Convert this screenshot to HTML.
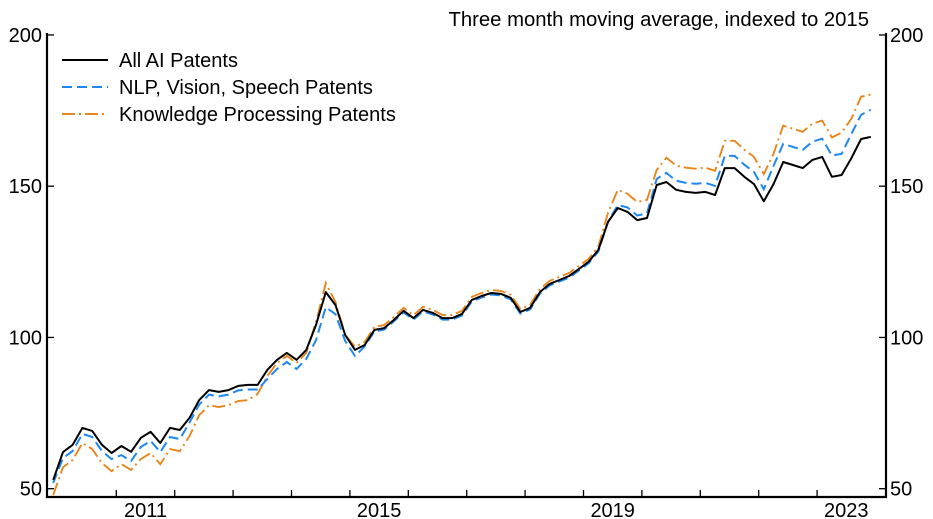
<!DOCTYPE html>
<html><head><meta charset="utf-8"><style>
body{margin:0;background:#fff;}
svg{display:block;font-family:"Liberation Sans",sans-serif;}
</style></head><body>
<svg id="chart" width="933" height="519">
<defs><clipPath id="clip"><rect x="47" y="30" width="839" height="467"/></clipPath></defs>
<text x="869" y="26" text-anchor="end" font-size="20.3">Three month moving average, indexed to 2015</text>
<g id="axes"></g>
<g id="series" clip-path="url(#clip)"></g>
<g>
<line x1="62" y1="60" x2="108" y2="60" stroke="#000" stroke-width="2"/>
<text x="119" y="67" font-size="20">All AI Patents</text>
<line x1="62" y1="87" x2="108" y2="87" stroke="#1e88f0" stroke-width="2" stroke-dasharray="10,5"/>
<text x="119" y="94" font-size="20">NLP, Vision, Speech Patents</text>
<line x1="62" y1="114" x2="108" y2="114" stroke="#e8851c" stroke-width="2" stroke-dasharray="13,4,2,4"/>
<text x="119" y="121" font-size="20">Knowledge Processing Patents</text>
</g>
</svg>
<script>
const startYear = 2009.92;
const stepYears = 2/12;
const allAI = [52.9,62.1,64.5,70.1,69.1,64.5,61.8,64.1,62.2,66.8,68.8,65.1,70.1,69.4,73.4,79.3,82.6,82.0,82.6,84.0,84.3,84.3,89.3,92.6,94.9,92.6,95.9,104.1,115.0,110.7,100.8,95.9,97.5,102.5,103.1,105.8,108.8,106.4,109.1,108.1,106.4,106.4,107.8,112.4,113.7,114.7,114.4,113.1,108.4,109.8,115.0,117.7,119.0,120.3,122.6,125.0,128.9,138.2,142.8,141.5,138.8,139.5,150.4,151.4,148.8,148.1,147.8,148.1,147.1,156.0,156.0,153.1,150.7,145.0,150.7,158.0,157.0,156.0,158.7,159.7,153.1,153.7,159.3,165.6,166.3];
const nlp = [51.9,60.1,62.5,68.1,67.1,62.5,59.8,61.1,59.2,63.8,65.8,62.1,67.1,66.4,71.9,77.8,81.1,80.5,81.1,82.5,82.8,82.8,86.3,89.6,91.9,89.6,92.9,99.1,110.0,107.7,98.8,93.9,97.0,102.0,102.6,105.3,108.3,105.9,108.6,107.6,105.9,105.9,107.3,111.9,113.2,114.2,113.9,112.6,107.9,109.3,114.5,117.2,118.5,119.8,122.1,124.5,128.4,138.2,143.8,143.0,140.3,141.0,152.4,154.4,151.8,151.1,150.8,151.1,150.1,160.0,160.0,157.1,154.7,149.0,156.7,164.0,163.0,162.0,164.7,165.7,160.1,160.7,167.3,173.6,175.3];
const knowledge = [47.9,57.1,59.5,65.1,63.1,58.5,55.8,58.1,56.2,59.8,61.8,58.1,63.1,62.4,67.4,74.3,77.6,77.0,77.6,79.0,79.3,81.3,87.3,91.6,93.9,91.6,94.9,105.1,118.0,111.7,100.8,96.9,98.5,103.5,104.1,106.8,109.8,107.4,110.1,109.1,107.4,107.4,108.8,113.4,114.7,115.7,115.4,114.1,109.4,110.8,116.0,118.7,120.0,121.3,123.6,126.0,129.9,141.2,148.8,147.5,144.8,145.5,155.4,159.4,156.8,156.1,155.8,156.1,155.1,165.0,165.0,162.1,159.7,154.0,160.7,170.0,169.0,168.0,170.7,171.7,166.1,167.7,172.3,179.6,180.3];
const yTicks = [50,100,150,200];
const xTickYears = [2011,2012,2013,2014,2015,2016,2017,2018,2019,2020,2021,2022,2023];
const xLabelYears = [2011,2015,2019,2023];

const NS = "http://www.w3.org/2000/svg";
const xPos = t => 116.3 + (t - 2011) * 58.4;
const yPos = v => 488.7 - (v - 50) * 3.025;
function mk(tag, attrs, parent){const e=document.createElementNS(NS,tag);for(const k in attrs)e.setAttribute(k,attrs[k]);parent.appendChild(e);return e;}
const axes = document.getElementById('axes');
const series = document.getElementById('series');
let e;
e = mk('path',{d:'M47,33 V497 H886 V33',fill:'none',stroke:'#000','stroke-width':2.2},axes);


yTicks.forEach(v=>{
  const y=yPos(v);
  e=mk('line',{x1:47,x2:54,y1:y,y2:y,stroke:'#000','stroke-width':1.3},axes);
  
  
  e=mk('line',{x1:879,x2:886,y1:y,y2:y,stroke:'#000','stroke-width':1.3},axes);
  
  
  e=mk('text',{x:42,y:y+7,'text-anchor':'end','font-size':20},axes);e.textContent=v;
  
  
  e=mk('text',{x:890,y:y+7,'text-anchor':'start','font-size':20},axes);e.textContent=v;
  
  
});
xTickYears.forEach(yr=>{
  const x=xPos(yr);
  e=mk('line',{x1:x,x2:x,y1:490,y2:497,stroke:'#000','stroke-width':1.3},axes);
  
  
});
xLabelYears.forEach(yr=>{
  e=mk('text',{x:xPos(yr+0.5),y:517,'text-anchor':'middle','font-size':20},axes);e.textContent=yr;
  
  
});
function pathOf(arr){return arr.map((v,i)=>(i?'L':'M')+xPos(startYear+i*stepYears).toFixed(1)+','+yPos(v).toFixed(1)).join(' ');}
e=mk('path',{d:pathOf(knowledge),fill:'none',stroke:'#e8851c','stroke-width':1.9,'stroke-dasharray':'13,4,2,4'},series);


e=mk('path',{d:pathOf(nlp),fill:'none',stroke:'#1e88f0','stroke-width':2,'stroke-dasharray':'10,5'},series);


e=mk('path',{d:pathOf(allAI),fill:'none',stroke:'#000','stroke-width':2,'stroke-linejoin':'round'},series);


</script>
</body></html>
